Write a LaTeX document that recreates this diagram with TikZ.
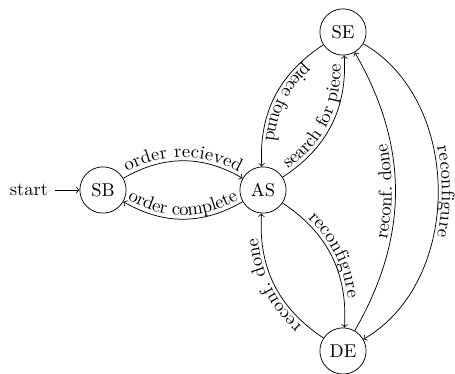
\documentclass[tikz,border=0pt]{standalone}
\usetikzlibrary{decorations.text}
\begin{document}
\begin{tikzpicture}[x=0.5405pt,y=0.5405pt,
  statenode/.style={circle,draw,minimum size=25pt,inner sep=0pt},
  lab/.style={postaction={decorate,decoration={text along path,text align=center,raise=2pt,text={#1}}}},
  labrev/.style={postaction={decorate,decoration={text along path,text align=center,raise=2pt,reverse path,text={#1}}}}]
\useasboundingbox (0,0) rectangle (455,374);
\node[statenode] (SB) at (103,184) {SB};
\node[statenode] (AS) at (263,184) {AS};
\node[statenode] (SE) at (343,342) {SE};
\node[statenode] (DE) at (343,23) {DE};
\node (start) at (29,184) {start};
\draw[->] (start) -- (SB);
\draw[->,lab={order recieved}] (SB) to[bend left] (AS);
\draw[->,labrev={order complete}] (AS) to[bend left] (SB);
\draw[->,lab={search for piece}] (AS) to[bend right] (SE);
\draw[->,lab={piece found}] (SE) to[bend right] (AS);
\draw[->,lab={reconfigure}] (AS) to[bend left] (DE);
\draw[->,lab={reconf. done}] (DE) to[bend left] (AS);
\draw[->,lab={reconf. done}] (DE) to[bend right] (SE);
\draw[->,lab={reconfigure}] (SE) to[bend left=60] (DE);
\end{tikzpicture}
\end{document}
